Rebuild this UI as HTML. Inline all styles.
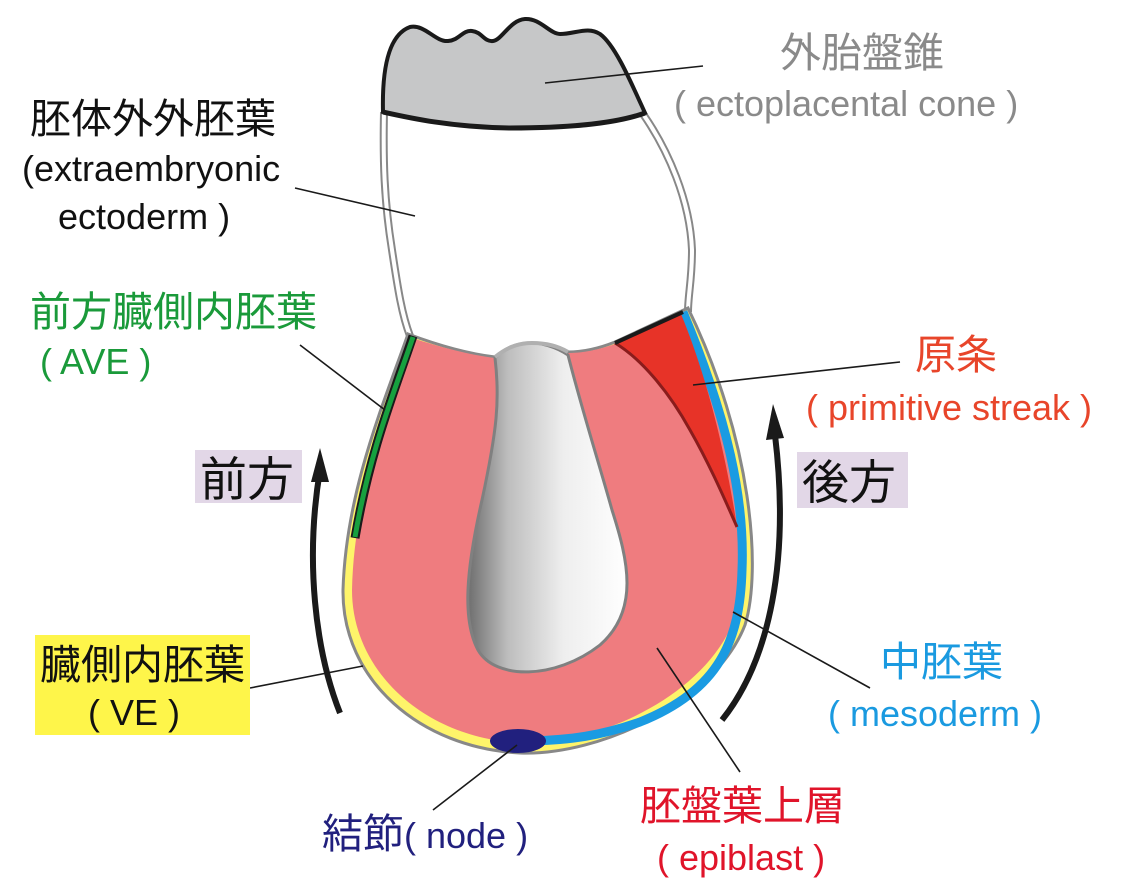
<!DOCTYPE html>
<html><head><meta charset="utf-8"><style>
body{margin:0;background:#fff}
svg{display:block}
text{font-family:"Liberation Sans","Noto Sans CJK JP",sans-serif}
.j{font-size:41px}
.e{font-size:36px}
</style></head><body>
<svg width="1131" height="893" viewBox="0 0 1131 893" xmlns="http://www.w3.org/2000/svg">
<defs>
<linearGradient id="cav" x1="0" x2="1" y1="0" y2="0">
<stop offset="0" stop-color="#6e6e6e"/><stop offset="0.25" stop-color="#bdbdbd"/><stop offset="0.6" stop-color="#eeeeee"/><stop offset="1" stop-color="#ffffff"/>
</linearGradient>
</defs>
<g fill="none">
<path d="M384,112 C383,160 384,200 392,250 C398,290 402,315 410,336" stroke="#888" stroke-width="8"/>
<path d="M384,112 C383,160 384,200 392,250 C398,290 402,315 410,336" stroke="#fff" stroke-width="4"/>
<path d="M643,114 C668,150 690,200 692,250 C692,280 688,295 688,312" stroke="#888" stroke-width="8"/>
<path d="M643,114 C668,150 690,200 692,250 C692,280 688,295 688,312" stroke="#fff" stroke-width="4"/>
</g>
<path d="M383,112 C382,70 388,35 410,27 C425,24 435,42 448,41 C460,40 462,30 472,31 C482,32 484,42 493,41 C502,40 510,20 525,19 C540,18 550,34 560,34 C575,34 588,26 600,34 C615,45 630,80 645,113 C620,122 580,128 510,128 C450,127 410,118 383,112 Z" fill="#c6c7c8" stroke="#1a1a1a" stroke-width="4"/>
<path d="M383,112 C410,118 450,127 510,128 C580,128 620,122 645,113" fill="none" stroke="#1a1a1a" stroke-width="5"/>
<path d="M408,334 C385,400 346,490 343,590 C342,680 420,748 520,753 C600,756 715,702 745,625 C762,570 752,440 688,308 L615,342 C595,350 580,352 568,352 L495,357 C470,354 440,346 408,334 Z" fill="#fef46a" stroke="#888" stroke-width="3"/>
<path d="M412,338 C392,400 354,490 352,590 C352,672 425,738 520,743 C600,745 705,695 734,620 C748,570 744,450 684,314 L615,344 C595,351 580,353 568,353 L495,358 C470,355 440,347 412,338 Z" fill="#ef7c7f"/>
<path d="M683,312 C728,420 745,500 742,570 C740,640 720,690 640,722 C600,736 570,740 530,741" fill="none" stroke="#1a9be2" stroke-width="9"/>
<path d="M615,343 L681,314 C700,360 722,430 737,527 C715,480 690,420 660,385 C645,365 630,352 615,343 Z" fill="#e73328"/>
<path d="M615,343 C640,358 668,390 690,430 C710,465 725,500 737,527" fill="none" stroke="#8a1c1c" stroke-width="3"/>
<path d="M615,343 L683,312" stroke="#1a1a1a" stroke-width="4"/>
<path d="M413,336 C395,390 370,450 355,538" fill="none" stroke="#1a1a1a" stroke-width="9"/>
<path d="M413,337 C395,390 370,450 355,537" fill="none" stroke="#17a03f" stroke-width="5"/>
<path d="M495,358 C500,400 497,430 482,500 C466,570 462,620 478,650 C495,680 555,680 600,645 C640,610 628,560 612,510 C598,460 582,410 568,355 C555,346 540,343 532,343 C515,343 505,348 495,358 Z" fill="url(#cav)" stroke="#808080" stroke-width="3"/>
<path d="M495,357 C510,345 522,343 532,343 C545,343 558,346 568,352" fill="none" stroke="#b0b0b0" stroke-width="4"/>
<ellipse cx="518" cy="741" rx="28" ry="12" fill="#21207e"/>
<path d="M340,713 C315,650 305,560 320,470" fill="none" stroke="#1a1a1a" stroke-width="6"/>
<polygon points="320,448 311,482 329,482" fill="#1a1a1a"/>
<path d="M722,720 C770,660 790,560 775,435" fill="none" stroke="#1a1a1a" stroke-width="6"/>
<polygon points="773,404 766,440 784,438" fill="#1a1a1a"/>
<g stroke="#1a1a1a" stroke-width="1.6">
<line x1="545" y1="83" x2="703" y2="66"/>
<line x1="295" y1="188" x2="415" y2="216"/>
<line x1="300" y1="345" x2="385" y2="410"/>
<line x1="693" y1="385" x2="900" y2="362"/>
<line x1="250" y1="688" x2="363" y2="666"/>
<line x1="733" y1="612" x2="870" y2="688"/>
<line x1="657" y1="648" x2="740" y2="772"/>
<line x1="517" y1="745" x2="433" y2="810"/>
</g>
<rect x="195" y="450" width="107" height="53" fill="#e2d7e7"/>
<rect x="797" y="452" width="111" height="56" fill="#e2d7e7"/>
<rect x="35" y="635" width="215" height="100" fill="#fef54a"/>
<text class="j" x="780" y="67" fill="#8a8a8a">外胎盤錐</text>
<text class="e" x="674" y="116" fill="#8a8a8a">( ectoplacental cone )</text>
<text class="j" x="30" y="133" fill="#111">胚体外外胚葉</text>
<text class="e" x="22" y="181" fill="#111">(extraembryonic</text>
<text class="e" x="58" y="229" fill="#111">ectoderm )</text>
<text class="j" x="30" y="326" fill="#1a9a3a">前方臓側内胚葉</text>
<text class="e" x="40" y="374" fill="#1a9a3a">( AVE )</text>
<text x="200" y="496" fill="#111" font-size="47">前方</text>
<text x="802" y="499" fill="#111" font-size="47">後方</text>
<text class="j" x="40" y="679" fill="#111">臓側内胚葉</text>
<text class="e" x="88" y="725" fill="#111">( VE )</text>
<text class="j" x="915" y="369" fill="#e8452a">原条</text>
<text class="e" x="806" y="420" fill="#e8452a">( primitive streak )</text>
<text class="j" x="880" y="676" fill="#1a9ae0">中胚葉</text>
<text class="e" x="828" y="726" fill="#1a9ae0">( mesoderm )</text>
<text class="j" x="640" y="820" fill="#e0142a">胚盤葉上層</text>
<text class="e" x="657" y="870" fill="#e0142a">( epiblast )</text>
<text class="j" x="322" y="848" fill="#21207e">結節<tspan font-size="36">( node )</tspan></text>
</svg>
</body></html>
